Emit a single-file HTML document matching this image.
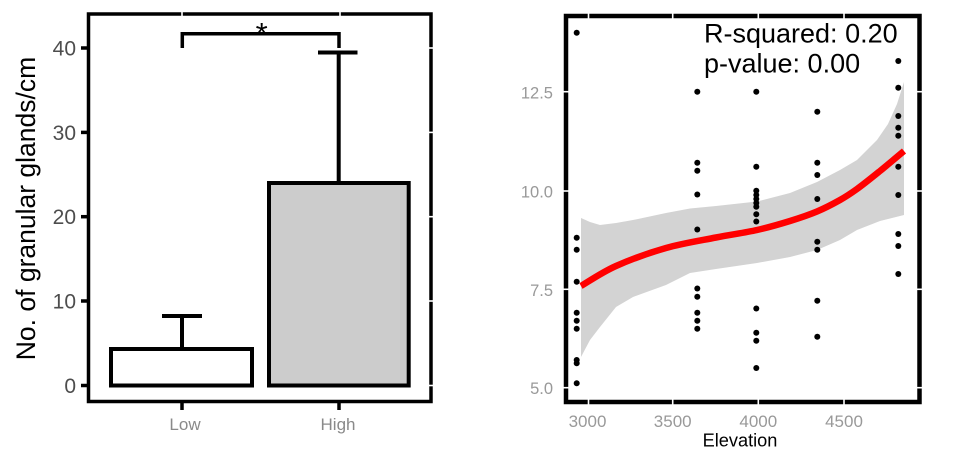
<!DOCTYPE html>
<html><head><meta charset="utf-8"><style>
html,body{margin:0;padding:0;background:#fff;}
svg{display:block;}
text{font-family:"Liberation Sans",Arial,sans-serif;}
</style></head><body>
<svg width="958" height="453" viewBox="0 0 958 453" xmlns="http://www.w3.org/2000/svg">
<rect width="958" height="453" fill="#fff"/>
<!-- LEFT PANEL -->
<g>
<rect x="111" y="349" width="141" height="36.5" fill="#fff" stroke="#000" stroke-width="4"/>
<rect x="269" y="183" width="139.7" height="202.5" fill="#cccccc" stroke="#000" stroke-width="4"/>
<g stroke="#000" stroke-width="4" fill="none">
<line x1="182" y1="316" x2="182" y2="349"/>
<line x1="162" y1="316" x2="202" y2="316"/>
<line x1="338.7" y1="52.5" x2="338.7" y2="183"/>
<line x1="318" y1="52.5" x2="357.5" y2="52.5"/>
<path d="M182.3 48 V33.8 H339 V48" stroke-width="3.5"/>
</g>
<text x="261.7" y="44" font-size="31" text-anchor="middle" fill="#000">*</text>
<rect x="88.5" y="14" width="342.5" height="387.5" fill="none" stroke="#000" stroke-width="3.5"/>
<g stroke="#000" stroke-width="3.5">
<line x1="81" y1="385.5" x2="88" y2="385.5"/>
<line x1="81" y1="301" x2="88" y2="301"/>
<line x1="81" y1="216.7" x2="88" y2="216.7"/>
<line x1="81" y1="132.4" x2="88" y2="132.4"/>
<line x1="81" y1="48" x2="88" y2="48"/>
<line x1="182" y1="402" x2="182" y2="410"/>
<line x1="339" y1="402" x2="339" y2="410"/>
</g>
<g stroke="#fff" stroke-width="1.6">
<line x1="182" y1="10" x2="182" y2="18"/>
<line x1="340" y1="10" x2="340" y2="18"/>
<line x1="428" y1="385.5" x2="436" y2="385.5"/>
<line x1="428" y1="301" x2="436" y2="301"/>
<line x1="428" y1="216.7" x2="436" y2="216.7"/>
<line x1="428" y1="132.4" x2="436" y2="132.4"/>
<line x1="428" y1="48" x2="436" y2="48"/>
</g>
<g font-size="21" fill="#4d4d4d" text-anchor="end">
<text x="76" y="393">0</text>
<text x="76" y="308.5">10</text>
<text x="76" y="224.2">20</text>
<text x="76" y="139.9">30</text>
<text x="76" y="55.5">40</text>
</g>
<g font-size="17" fill="#8a8a8a" text-anchor="middle">
<text x="185" y="430">Low</text>
<text x="338" y="430">High</text>
</g>
<text transform="translate(35,208.5) rotate(-90)" font-size="26.5" text-anchor="middle" fill="#000">No. of granular glands/cm</text>
</g>

<!-- RIGHT PANEL -->
<g>
<path d="M581 218 L590 222 L600 225 L616 223 L633 220 L666 213 L690 208.5 L716 206 L757 201.5 L790 193 L817 182 L840 170 L857 160 L877 140 L888 124 L897 104 L904 82 L904 215 L880 221 L857 230 L840 240 L817 250 L790 257 L757 263 L716 269 L690 273 L666 285 L633 297 L616 307 L600 327 L590 340 L581 357 Z" fill="#d3d3d3"/>
<g fill="#000">
<circle cx="576.7" cy="32.7" r="3"/><circle cx="576.7" cy="237.7" r="3"/><circle cx="576.7" cy="249.7" r="3"/><circle cx="576.7" cy="281.7" r="3"/><circle cx="576.7" cy="312.7" r="3"/><circle cx="576.7" cy="320.7" r="3"/><circle cx="576.7" cy="328.7" r="3"/><circle cx="576.7" cy="360" r="3"/><circle cx="576.7" cy="363.3" r="3"/><circle cx="576.7" cy="383.3" r="3"/>
<circle cx="697.3" cy="91.7" r="3"/><circle cx="697.3" cy="162.7" r="3"/><circle cx="697.3" cy="170.7" r="3"/><circle cx="697.3" cy="194.5" r="3"/><circle cx="697.3" cy="229.5" r="3"/><circle cx="697.3" cy="288.5" r="3"/><circle cx="697.3" cy="296.7" r="3"/><circle cx="697.3" cy="312.7" r="3"/><circle cx="697.3" cy="320.7" r="3"/><circle cx="697.3" cy="328.7" r="3"/>
<circle cx="756.3" cy="91.7" r="3"/><circle cx="756.3" cy="166.7" r="3"/><circle cx="756.3" cy="190.7" r="3"/><circle cx="756.3" cy="195" r="3"/><circle cx="756.3" cy="199" r="3"/><circle cx="756.3" cy="203" r="3"/><circle cx="756.3" cy="206.7" r="3"/><circle cx="756.3" cy="214.3" r="3"/><circle cx="756.3" cy="221.5" r="3"/><circle cx="756.3" cy="308.5" r="3"/><circle cx="756.3" cy="332.7" r="3"/><circle cx="756.3" cy="340.7" r="3"/><circle cx="756.3" cy="368" r="3"/>
<circle cx="817.3" cy="111.7" r="3"/><circle cx="817.3" cy="162.7" r="3"/><circle cx="817.3" cy="175" r="3"/><circle cx="817.3" cy="199" r="3"/><circle cx="817.3" cy="241.7" r="3"/><circle cx="817.3" cy="249.7" r="3"/><circle cx="817.3" cy="300.7" r="3"/><circle cx="817.3" cy="336.7" r="3"/>
<circle cx="898.3" cy="61" r="3"/><circle cx="898.3" cy="87.7" r="3"/><circle cx="898.3" cy="116" r="3"/><circle cx="898.3" cy="127.7" r="3"/><circle cx="898.3" cy="135.7" r="3"/><circle cx="898.3" cy="166.7" r="3"/><circle cx="898.3" cy="195" r="3"/><circle cx="898.3" cy="234" r="3"/><circle cx="898.3" cy="246" r="3"/><circle cx="898.3" cy="274" r="3"/>
</g>
<path d="M581 286 C586.8 282.7 601.8 272.3 616 266 C630.2 259.7 649.3 252.75 666 248 C682.7 243.25 700.8 240.5 716 237.5 C731.2 234.5 744.7 232.75 757 230 C769.3 227.25 780 224.1 790 221 C800 217.9 808.7 215 817 211.5 C825.3 208 833.3 203.75 840 200 C846.7 196.25 850.3 193.8 857 189 C863.7 184.2 872.2 177.3 880 171 C887.8 164.7 900 154.3 904 151" fill="none" stroke="#ff0000" stroke-width="6.5" stroke-linecap="butt"/>
<rect x="566" y="16" width="353.5" height="386" fill="none" stroke="#000" stroke-width="4.5"/>
<g stroke="#fff" stroke-width="1.6">
<line x1="561" y1="91.7" x2="570" y2="91.7"/>
<line x1="561" y1="191" x2="570" y2="191"/>
<line x1="561" y1="289.3" x2="570" y2="289.3"/>
<line x1="561" y1="387.7" x2="570" y2="387.7"/>
<line x1="916" y1="91.7" x2="924" y2="91.7"/>
<line x1="916" y1="191" x2="924" y2="191"/>
<line x1="916" y1="289.3" x2="924" y2="289.3"/>
<line x1="916" y1="387.7" x2="924" y2="387.7"/>
<line x1="588.5" y1="398" x2="588.5" y2="407"/>
<line x1="672.7" y1="398" x2="672.7" y2="407"/>
<line x1="758.3" y1="398" x2="758.3" y2="407"/>
<line x1="844" y1="398" x2="844" y2="407"/>
<line x1="588.5" y1="12" x2="588.5" y2="20"/>
<line x1="672.7" y1="12" x2="672.7" y2="20"/>
<line x1="758.3" y1="12" x2="758.3" y2="20"/>
<line x1="844" y1="12" x2="844" y2="20"/>
</g>
<g font-size="16.5" fill="#999" text-anchor="end">
<text x="553" y="98.5">12.5</text>
<text x="553" y="197.5">10.0</text>
<text x="553" y="295.8">7.5</text>
<text x="553" y="394">5.0</text>
</g>
<g font-size="17" fill="#999" text-anchor="middle">
<text x="587.5" y="427">3000</text>
<text x="672.7" y="427">3500</text>
<text x="758.3" y="427">4000</text>
<text x="844" y="427">4500</text>
</g>
<text x="740" y="446.5" font-size="18.2" text-anchor="middle" fill="#000">Elevation</text>
<text x="704" y="42.3" font-size="27" fill="#000">R-squared: 0.20</text>
<text x="704" y="72.3" font-size="27" fill="#000">p-value: 0.00</text>
</g>
</svg>
</body></html>
